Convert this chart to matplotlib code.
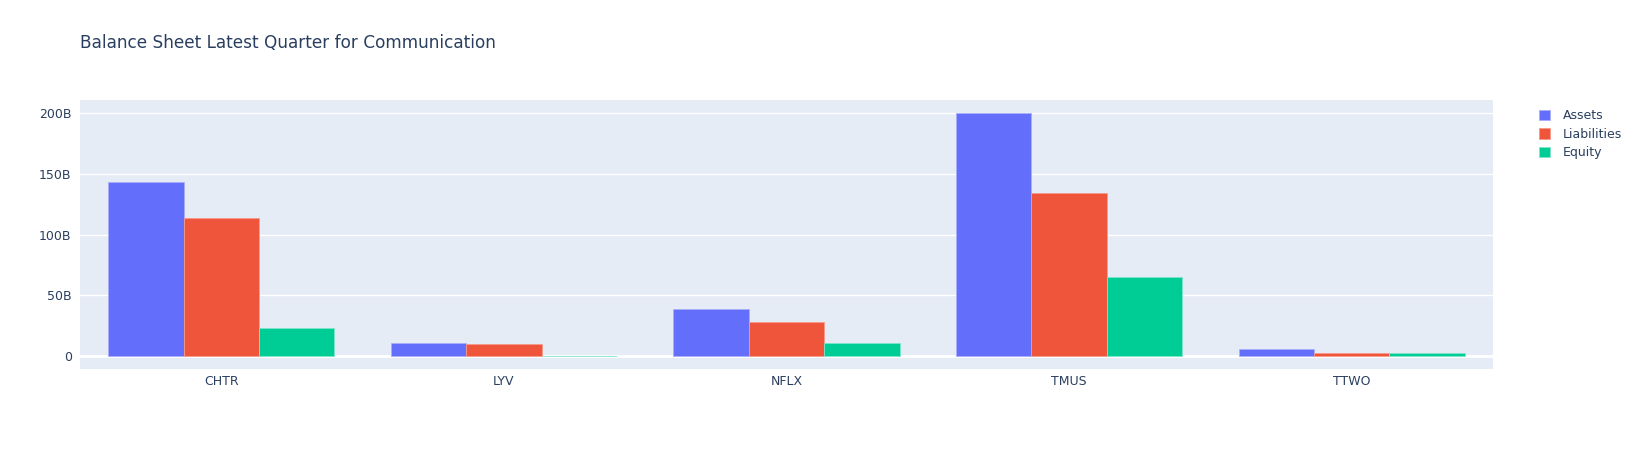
import matplotlib
matplotlib.use("Agg")
import matplotlib.pyplot as plt
import numpy as np

tickers = ["CHTR", "LYV", "NFLX", "TMUS", "TTWO"]
series_names = ["Assets", "Liabilities", "Equity"]
assets = [143.8, 10.4, 38.6, 200.0, 5.6]
liabilities = [113.6, 10.3, 27.7, 134.4, 2.3]
equity = [23.4, 0.3, 10.4, 64.8, 2.6]
y_ticks = [0, 50, 100, 150, 200]
y_tick_labels = ["0", "50B", "100B", "150B", "200B"]

colors = ["#636EFA", "#EF553B", "#00CC96"]
edge_colors = ["#A9AEFC", "#F59A8A", "#7FE5CA"]
text_color = "#2a3f5f"

W, H = 1634, 450
fig = plt.figure(figsize=(W / 100, H / 100), dpi=100)
left, right, top, bottom = 80, 1493, 100, 369
ax = fig.add_axes([left / W, 1 - bottom / H, (right - left) / W, (bottom - top) / H])
ax.set_facecolor("#E5ECF6")

x = np.arange(len(tickers))
bw = 0.8 / 3
for i, (name, vals) in enumerate(zip(series_names, [assets, liabilities, equity])):
    ax.bar(x + (i - 1) * bw, vals, width=bw, color=colors[i], edgecolor=edge_colors[i],
           linewidth=0.6, label=name, zorder=3)

ax.set_xlim(-0.5, len(tickers) - 0.5)
ax.set_ylim(-10.7, 211)
ax.set_yticks(y_ticks)
ax.set_yticklabels(y_tick_labels)
ax.set_xticks(x)
ax.set_xticklabels(tickers)
ax.grid(axis="y", color="white", linewidth=1, zorder=0)
ax.axhline(0, color="white", linewidth=2, zorder=2)
for s in ax.spines.values():
    s.set_visible(False)
ax.tick_params(axis="both", length=0, colors=text_color, labelsize=9)
ax.tick_params(axis="y", pad=6)
ax.tick_params(axis="x", pad=4)

fig.text(80 / W, 1 - 43 / H, "Balance Sheet Latest Quarter for Communication",
         fontsize=12.2, color=text_color, va="center", ha="left")

leg_top = 104
leg = ax.legend(loc="upper left",
                bbox_to_anchor=((1534 - left) / (right - left), (bottom - leg_top) / (bottom - top)),
                frameon=False, fontsize=9, handlelength=0.9, handleheight=0.9,
                handletextpad=1.0, labelspacing=0.45, borderaxespad=0)
for t in leg.get_texts():
    t.set_color(text_color)

fig.savefig("out.png", dpi=100, facecolor="white")
